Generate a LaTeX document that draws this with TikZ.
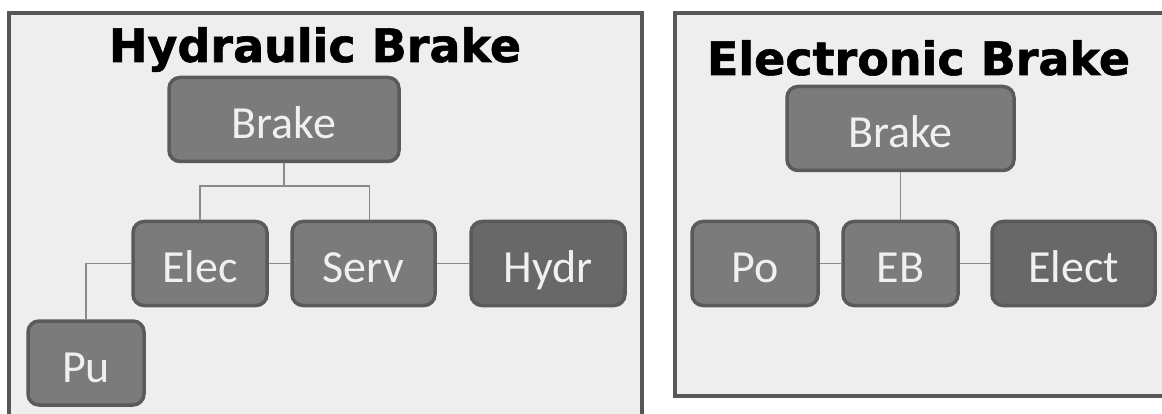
\documentclass[tikz,border=0pt]{standalone}
\usepackage{fontspec}
\setmainfont{Carlito}
\newfontfamily\titlefont{DejaVu Sans}[BoldFeatures={FakeBold=1.2}]
\usepackage{xcolor}
\usetikzlibrary{positioning}

\definecolor{panelfill}{HTML}{EEEEEE}
\definecolor{paneledge}{HTML}{575757}
\definecolor{boxfill}{HTML}{7B7B7B}
\definecolor{boxdark}{HTML}{686868}
\definecolor{boxedge}{HTML}{5A5A5A}
\definecolor{linkgray}{HTML}{8A8A8A}

\begin{document}
\begin{tikzpicture}[
    x=1pt, y=-1pt,
    panel/.style={draw=paneledge, line width=4pt, fill=panelfill},
    title/.style={anchor=base, inner sep=0pt, font=\titlefont\bfseries\fontsize{46}{50}\selectfont},
    box/.style={draw=boxedge, line width=3.5pt, rectangle, rounded corners=11pt, fill=boxfill, text=white!94!black, inner sep=0pt, minimum height=84pt, text height=38pt, text depth=0pt, font=\fontsize{46}{50}\selectfont},
    darkbox/.style={box, fill=boxdark},
    link/.style={draw=linkgray, line width=1.6pt}
]
\clip (0,0) rectangle (1162,414);
\fill[white] (0,0) rectangle (1162,414);

% Panels
\draw[panel] (9,13) rectangle (642,440);
\draw[panel] (675,13) rectangle (1190,396);

% Hydraulic Brake
\node[title] (hydtitle) at (315,62) {Hydraulic Brake};
\node[box, minimum width=230pt] (hbrake) at (284,119.5) {Brake};
\node[box, minimum width=134pt] (elec) at (200,263.5) {Elec};
\node[box, minimum width=143pt] (serv) at (363.5,263.5) {Serv};
\node[darkbox, minimum width=154pt] (hydr) at (548,263.5) {Hydr};
\node[box, minimum width=116pt] (pu) at (86,363) {Pu};
\coordinate (hjoin) at (284,186);

\draw[link] (hbrake) -- (hjoin);
\draw[link] (elec.north) |- (hjoin) -| ([xshift=6pt]serv.north);
\draw[link] (elec) -- (serv);
\draw[link] (serv) -- (hydr);
\draw[link] (elec.west) -| (pu.north);

% Electronic Brake
\node[title] (eletitle) at (918.5,75) {Electronic Brake};
\node[box, minimum width=227pt] (ebrake) at (900.5,128.5) {Brake};
\node[box, minimum width=126pt] (po) at (755,263.5) {Po};
\node[box, minimum width=115pt] (eb) at (900.5,263.5) {EB};
\node[darkbox, minimum width=163pt] (elect) at (1073.5,263.5) {Elect};

\draw[link] (ebrake) -- (eb);
\draw[link] (po) -- (eb);
\draw[link] (eb) -- (elect);
\end{tikzpicture}
\end{document}
